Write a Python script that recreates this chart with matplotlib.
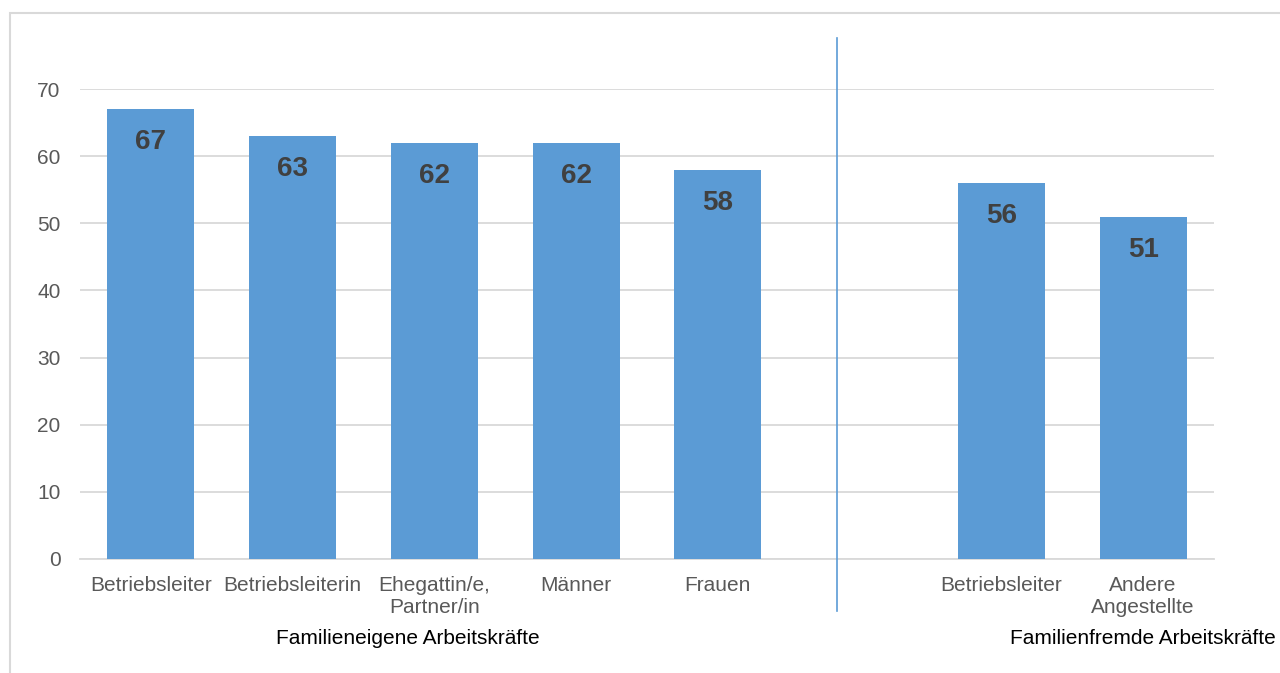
import matplotlib.pyplot as plt
from matplotlib.patches import Rectangle

plt.rcParams['font.family'] = ['Liberation Sans', 'DejaVu Sans']

# data
labels = ['Betriebsleiter', 'Betriebsleiterin', 'Ehegattin/e,\nPartner/in', 'Männer', 'Frauen',
          'Betriebsleiter', 'Andere\nAngestellte']
values = [67, 63, 62, 62, 58, 56, 51]
positions = [0, 1, 2, 3, 4, 6, 7]
groups = ['Familieneigene Arbeitskräfte', 'Familienfremde Arbeitskräfte']
group_x = [1.81, 7.0]
sep_x = 4.84

blue = '#5b9bd5'

fig = plt.figure(figsize=(12.8, 6.73), dpi=100)
ax = fig.add_axes([80/1280, 1-559/673, (1214-80)/1280, (559-89)/673])

# light frame around chart area (cut at right/bottom like the original)
fig.patches.append(Rectangle((10/1280, -0.1), 1.2, 1-13/673+0.1, transform=fig.transFigure,
                             fill=False, edgecolor='#d9d9d9', linewidth=1.5))

bars = ax.bar(positions, values, width=0.614, color=blue, zorder=3)
for x, v in zip(positions, values):
    ax.annotate(str(v), (x, v), xytext=(0, -24), textcoords='offset points',
                ha='center', va='center', fontsize=20, fontweight='bold', color='#404040', zorder=4)

ax.set_xlim(-0.5, 7.5)
ax.set_ylim(0, 70)
ax.set_yticks(range(0, 71, 10))
ax.yaxis.grid(True, color='#d9d9d9', linewidth=1.3, zorder=0)
ax.set_axisbelow(True)
for s in ['top', 'right', 'left']:
    ax.spines[s].set_visible(False)
ax.spines['bottom'].set_color('#d9d9d9')
ax.spines['bottom'].set_linewidth(1.3)
ax.tick_params(axis='both', length=0, labelsize=15, labelcolor='#595959')
ax.tick_params(axis='y', pad=14)
ax.tick_params(axis='x', pad=12)
ax.set_xticks(positions)
ax.set_xticklabels(labels, linespacing=1.25)

# separator line between groups
ax.plot([sep_x, sep_x], [-7.7, 77.6], color=blue, linewidth=1.2, clip_on=False, zorder=5)

for gx, g in zip(group_x, groups):
    ax.text(gx, -11.9, g, ha='center', va='center', fontsize=15, color='black')

fig.savefig('out.png', dpi=100)
